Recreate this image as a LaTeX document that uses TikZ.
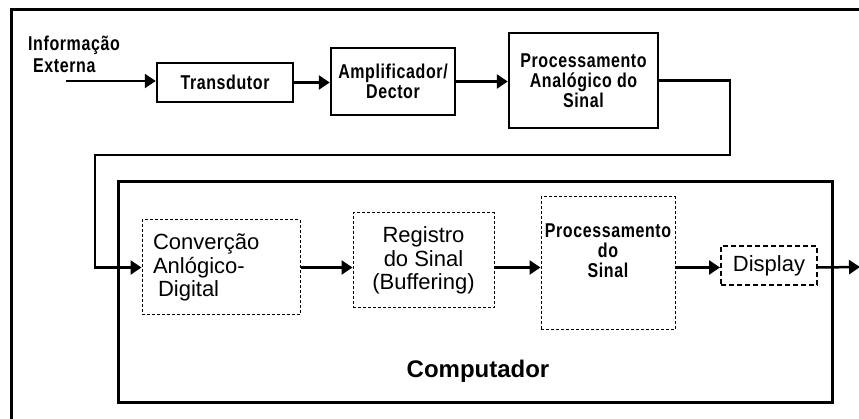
\documentclass[tikz,border=0pt]{standalone}
\usepackage{fontspec}
\setmainfont{Liberation Sans}
\newfontfamily\tallbold{Liberation Sans}[FakeStretch=0.8,LetterSpace=3]
\usetikzlibrary{arrows.meta}
\begin{document}
\begin{tikzpicture}[x=1pt,y=-1pt,
  solidbox/.style={draw,line width=2.5pt,rectangle,inner sep=0pt,align=center},
  dashbox/.style={draw,line width=1pt,dash pattern=on 3pt off 2pt,rectangle,inner sep=0pt,align=center},
  arr/.style={line width=2.5pt,-{Triangle[length=11pt,width=14pt]}},
  bfont/.style={font=\tallbold\fontsize{20}{20}\selectfont\bfseries},
  rfont/.style={font=\fontsize{22}{23.5}\selectfont}]
\useasboundingbox (0,0) rectangle (859,419);
\clip (0,0) rectangle (859,419);
\fill[white] (0,0) rectangle (859,419);
% outer frame (cropped at right and bottom)
\draw[line width=3pt] (870,10) -- (11,10) -- (11,430);
% top row
\node[bfont,anchor=north west,align=left,inner sep=0pt] (info) at (28,36) {Informação\\[2pt]\hspace{5pt}Externa};
\coordinate (in) at (66,81);
\node[solidbox,bfont,minimum width=136pt,minimum height=39pt] (tr) at (225,82.5) {Transdutor};
\node[solidbox,bfont,minimum width=124pt,minimum height=67pt] (amp) at (393,81.5) {Amplificador/\\Dector};
\node[solidbox,bfont,minimum width=149pt,minimum height=95pt] (pa) at (583.5,80.5) {Processamento\\Analógico do\\Sinal};
\draw[arr] (in) -- (in -| tr.west);
\draw[arr] (tr.east) -- (tr.east -| amp.west);
\draw[arr] (amp.east) -- (amp.east -| pa.west);
% computer box
\node[draw,line width=3pt,rectangle,minimum width=714pt,minimum height=220pt,inner sep=0pt] (comp) at (475,292) {};
\node[font=\fontsize{24}{28}\selectfont\bfseries,inner sep=0pt] (complabel) at (478,371) {Computador};
% lower row
\node[dashbox,rfont,minimum width=158pt,minimum height=95pt,text width=136pt,inner xsep=11pt,align=left] (conv) at (221,267.5) {Converção\\Anlógico-\\\hspace{5pt}Digital};
\node[dashbox,rfont,minimum width=141pt,minimum height=95pt] (reg) at (423.5,260.5) {Registro\\do Sinal\\(Buffering)};
\node[dashbox,minimum width=134pt,minimum height=133pt] (ps) at (608,263.5) {};
\node[bfont,inner sep=0pt,align=center] (pst) at (608,251) {Processamento\\do\\Sinal};
\node[draw,line width=2pt,dash pattern=on 5pt off 3pt,rectangle,inner sep=0pt,rfont,minimum width=96pt,minimum height=39pt] (disp) at (769,265.5) {Display};
\coordinate (c1) at (730,155);
\coordinate (c2) at (95,155);
\coordinate (out) at (860,267);
\draw[arr] (pa.east) -| (c1) -- (c2) |- (conv.west);
\draw[arr] (conv.east) -- (conv.east -| reg.west);
\draw[arr] (conv.east -| reg.east) -- (conv.east -| ps.west);
\draw[arr] (conv.east -| ps.east) -- (conv.east -| disp.west);
\draw[arr] (conv.east -| disp.east) -- (out);
\end{tikzpicture}
\end{document}
